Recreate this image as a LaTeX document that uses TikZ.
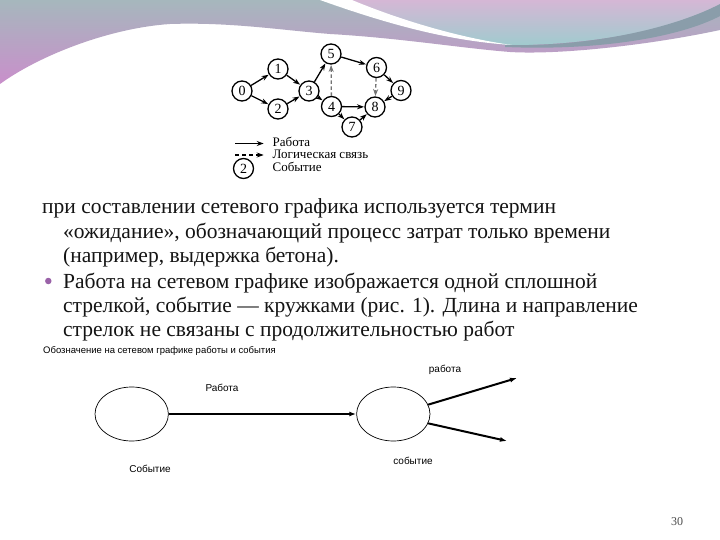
\documentclass[tikz,border=0pt]{standalone}
\usepackage{fontspec}
\setmainfont{Liberation Serif}
\newfontfamily\sansf{Liberation Sans}
\usetikzlibrary{arrows.meta,shapes.geometric}
\definecolor{bggray}{HTML}{A6B7BD}
\definecolor{bgmid}{HTML}{B0A8C0}
\definecolor{bgpink}{HTML}{C98FCB}
\definecolor{bglav}{HTML}{D5B7D5}
\definecolor{bgteal}{HTML}{9FCBCE}
\definecolor{bgdark}{HTML}{8A9DAA}
\definecolor{bulletc}{HTML}{9A62A8}
\definecolor{txt}{HTML}{141414}
\begin{document}
\begin{tikzpicture}[x=1pt,y=-1pt,
  ev/.style={circle,draw,line width=1.3pt,minimum size=20pt,inner sep=0pt,font=\fontsize{14}{14}\selectfont},
  job/.style={-{Stealth[length=7pt,width=5pt]},line width=1.3pt,shorten >=0.3pt},
  logic/.style={job,draw=black!55,dash pattern=on 3.5pt off 2.5pt},
  legtext/.style={anchor=base west,inner sep=0pt,font=\fontsize{13}{15}\selectfont},
  body/.style={anchor=base west,inner sep=0pt,text=txt,font=\fontsize{21.5}{24}\selectfont},
  capt/.style={anchor=base west,inner sep=0pt,font=\sansf\fontsize{9.5}{11}\selectfont},
  bigev/.style={ellipse,draw,line width=0.7pt,minimum width=73.4pt,minimum height=54pt,inner sep=0pt},
  arr/.style={-{Latex[length=7pt,width=5pt]},line width=2pt},
  lbl/.style={inner sep=0pt,font=\sansf\fontsize{10}{12}\selectfont}]
\useasboundingbox (0,0) rectangle (720,540);
\fill[white] (0,0) rectangle (720,540);
% background header
\shade[top color=bggray, middle color=bgmid, bottom color=bgpink]
  (0,0) -- (720,0) -- (720,30) .. controls (650,45) and (560,55) .. (510,52)
  .. controls (460,48) and (400,38) .. (330,34)
  .. controls (280,30) and (230,22) .. (170,24)
  .. controls (110,28) and (40,55) .. (0,84) -- cycle;
\shade[top color=bglav, bottom color=bgteal]
  (330,0) .. controls (390,22) and (450,40) .. (510,45)
  .. controls (580,46) and (680,30) .. (720,6) -- (720,0) -- cycle;
\fill[white] (320,0) .. controls (390,25) and (450,41) .. (512,45)
  .. controls (460,38) and (400,20) .. (352,0) -- cycle;
\fill[bgdark] (505,45) .. controls (600,47) and (680,25) .. (720,4) -- (720,16)
  .. controls (680,37) and (600,51) .. (505,47) -- cycle;
% network graph
\node[ev] (n0) at (242,91) {0};
\node[ev] (n1) at (278,69) {1};
\node[ev] (n2) at (278,109) {2};
\node[ev] (n3) at (309,91) {3};
\node[ev] (n5) at (331,54) {5};
\node[ev] (n6) at (376.5,67.5) {6};
\node[ev] (n9) at (401,90.5) {9};
\node[ev] (n4) at (331.5,106.5) {4};
\node[ev] (n8) at (375,107) {8};
\node[ev] (n7) at (352,127) {7};
\draw[job] (n0) -- (n1);
\draw[job] (n0) -- (n2);
\draw[job] (n1) -- (n3);
\draw[job] (n2) -- (n3);
\draw[job] (n3) -- (n5);
\draw[job] (n3) -- (n4);
\draw[job] (n5) -- (n6);
\draw[logic] (n4) -- (n5);
\draw[job] (n6) -- (n9);
\draw[logic] (n6) -- (n8);
\draw[job] (n4) -- (n8);
\draw[job] (n4) -- (n7);
\draw[job] (n7) -- (n8);
\draw[job] (n9) -- (n8);
% legend
\coordinate (la1) at (235,143.5);
\coordinate (la2) at (264,143.5);
\coordinate (lb1) at (235,155);
\coordinate (lb2) at (264,155);
\draw[job] (la1) -- (la2);
\draw[job,dash pattern=on 4pt off 3pt] (lb1) -- (lb2);
\node[ev] (lg) at (243.5,168.5) {2};
\node[legtext] (lt1) at (272.5,146.5) {Работа};
\node[legtext] (lt2) at (272.5,158.5) {Логическая связь};
\node[legtext] (lt3) at (272.5,171.5) {Событие};
% body text
\node[body] (t1) at (42,214) {при составлении сетевого графика используется термин};
\node[body] (t2) at (63,238) {«ожидание», обозначающий процесс затрат только времени};
\node[body] (t3) at (63,262) {(например, выдержка бетона).};
\node[circle,fill=bulletc,minimum size=6.5pt,inner sep=0pt] (bul) at (48.3,281) {};
\node[body] (t4) at (63,288) {Работа на сетевом графике изображается одной сплошной};
\node[body] (t5) at (63,312) {стрелкой, событие — кружками (рис. 1). Длина и направление};
\node[body] (t6) at (63,336) {стрелок не связаны с продолжительностью работ};
\node[capt] (cap) at (43,353) {Обозначение на сетевом графике работы и события};
% bottom diagram
\node[bigev] (L) at (131.7,414) {};
\node[bigev] (R) at (393.3,414) {};
\draw[arr] (L) -- (R);
\coordinate (e1) at (517,378);
\coordinate (e2) at (507,441);
\draw[arr] (R.15) -- (e1);
\draw[arr] (R.-15) -- (e2);
\node[lbl] (w1) at (222,388) {Работа};
\node[lbl] (w2) at (445,370) {работа};
\node[lbl] (s1) at (150,469) {Событие};
\node[lbl] (s2) at (413,461) {событие};
\node[font=\fontsize{12}{12}\selectfont,text=black!70,inner sep=0pt] (pg) at (677,522) {30};
\end{tikzpicture}
\end{document}
